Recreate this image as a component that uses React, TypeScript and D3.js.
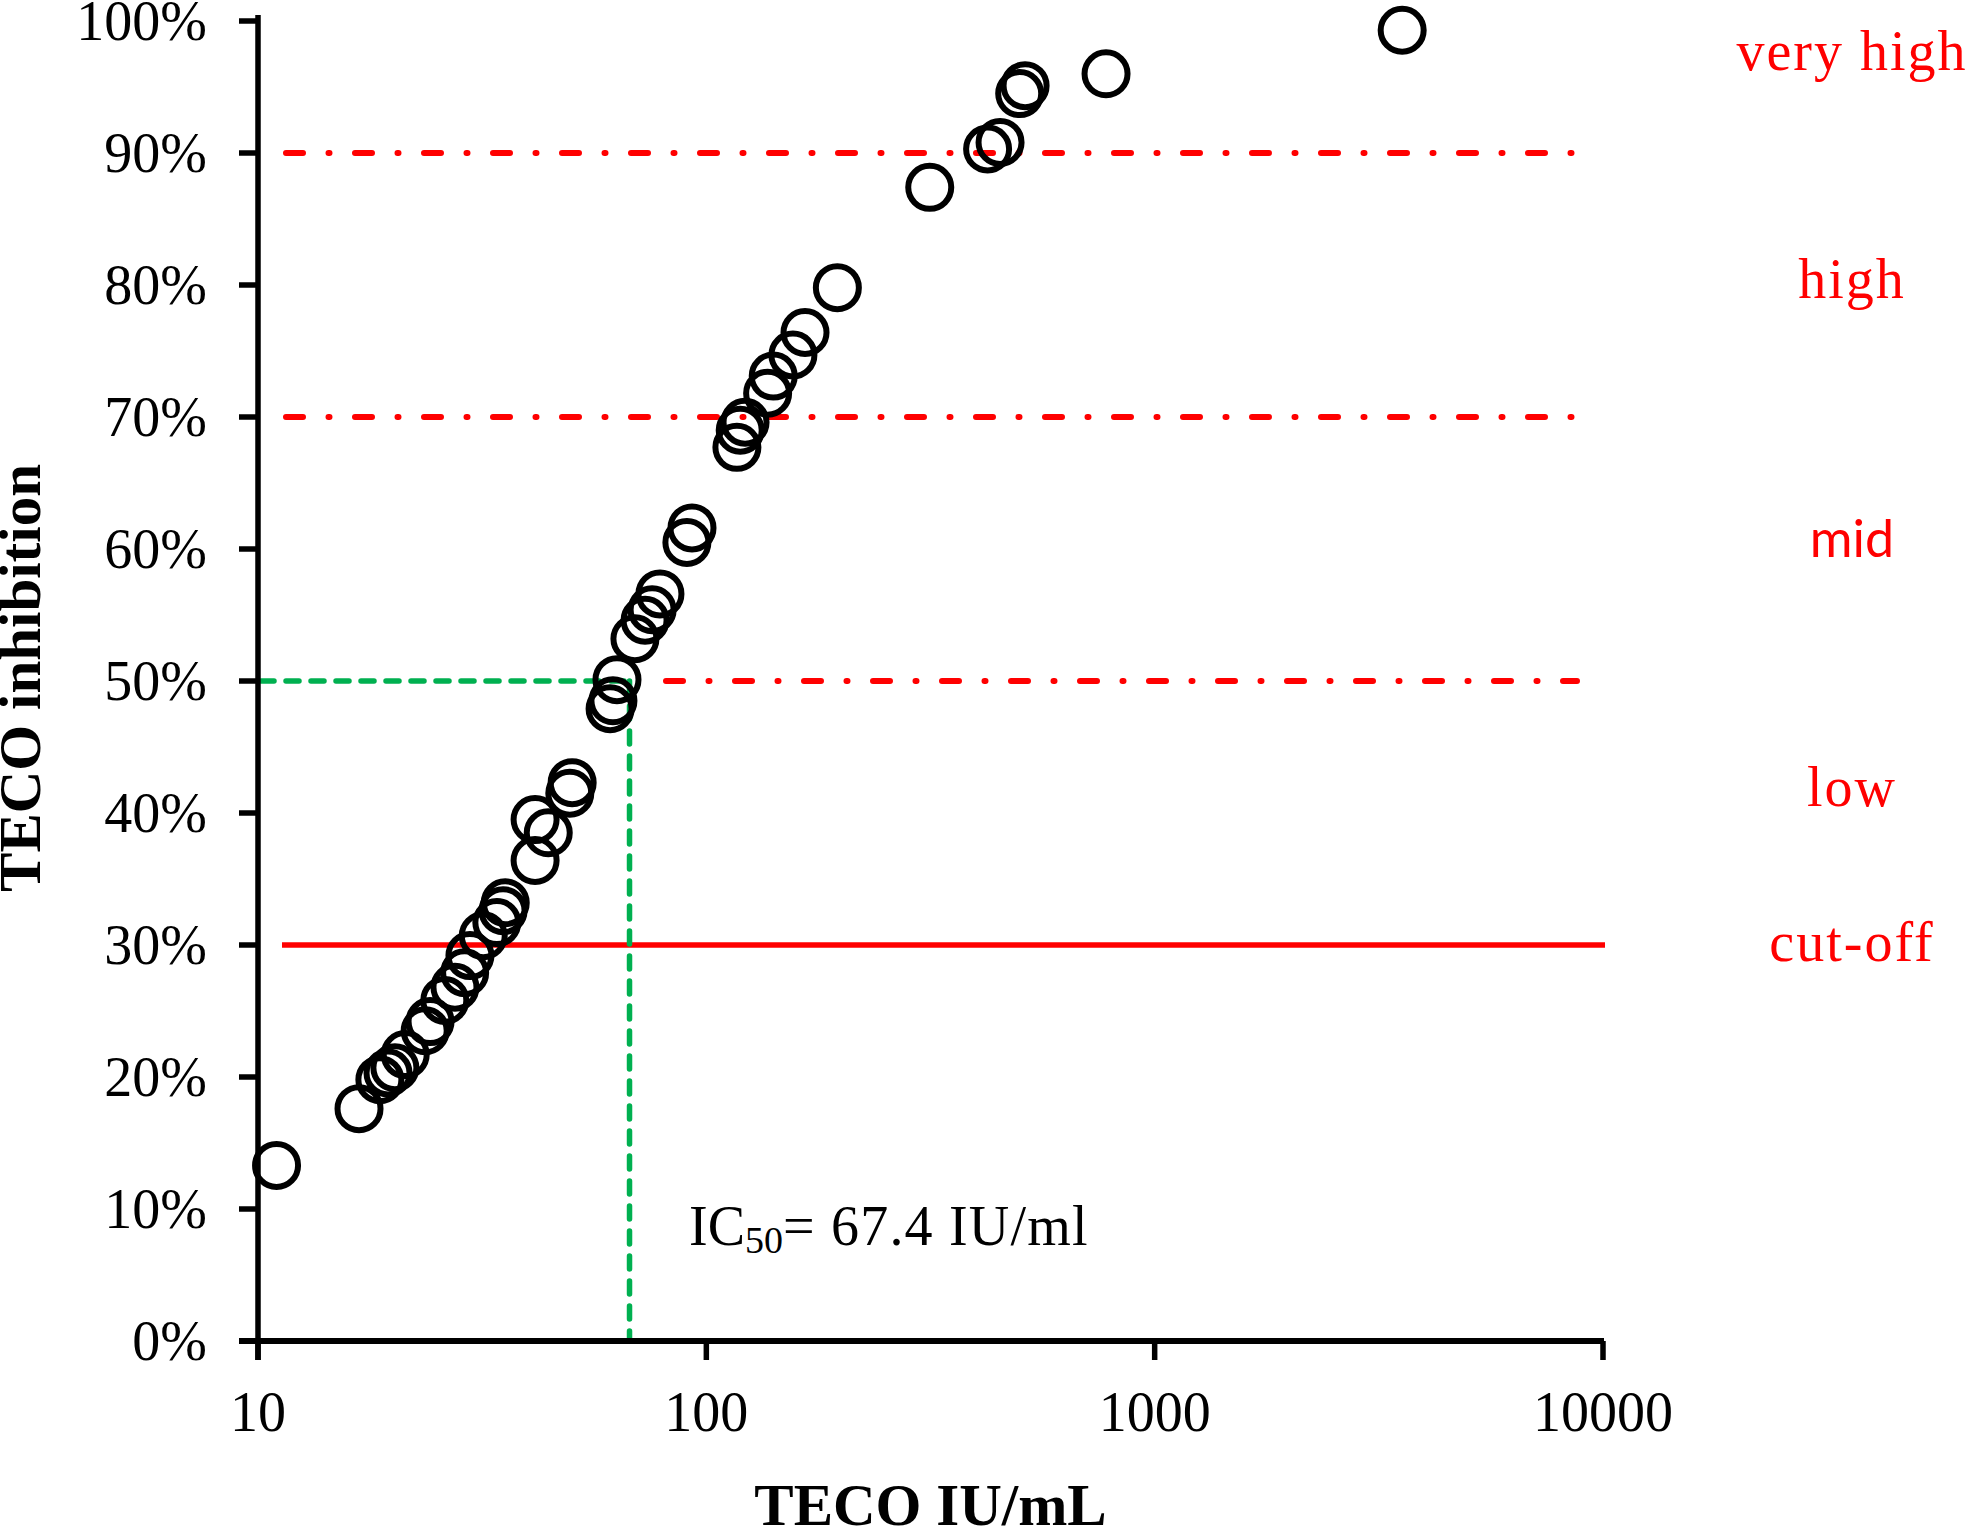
import React from "react";
import * as d3 from "d3";

// TECO concentration (IU/mL) and inhibition (fraction)
const tecoValues = [
  11.0, 16.8, 18.7, 19.5, 20.2, 21.3, 23.6, 24.2, 26.1, 27.5, 28.9, 29.7, 31.8, 34.1, 35.2, 35.6,
  41.5, 41.5, 44.4, 49.6, 50.2, 61.0, 61.9, 63.2, 69.3, 73.0, 75.7, 78.8, 90.5, 92.9,
  117, 119, 122, 137, 141, 156, 166, 196, 315, 424, 452, 500, 514, 779, 3565,
];
const inhibitionValues = [
  0.133, 0.176, 0.198, 0.203, 0.207, 0.217, 0.235, 0.242, 0.258, 0.268, 0.279, 0.292, 0.307, 0.317, 0.326, 0.332,
  0.364, 0.395, 0.385, 0.415, 0.423, 0.479, 0.485, 0.501, 0.532, 0.546, 0.554, 0.566, 0.605, 0.616,
  0.677, 0.69, 0.696, 0.718, 0.731, 0.747, 0.764, 0.798, 0.874, 0.903, 0.908, 0.945, 0.951, 0.96, 0.993,
];

const yTicks = [0, 0.1, 0.2, 0.3, 0.4, 0.5, 0.6, 0.7, 0.8, 0.9, 1.0];
const xTicks = [10, 100, 1000, 10000];

const dashDotLevels = [0.9, 0.7, 0.5];
const cutOff = 0.3;
const ic50 = 67.4;

const zoneLabels = [
  { text: "very high", y: 0.963, sans: false },
  { text: "high", y: 0.79, sans: false },
  { text: "mid", y: 0.594, sans: true },
  { text: "low", y: 0.405, sans: false },
  { text: "cut-off", y: 0.288, sans: false },
];

const W = 1969;
const H = 1528;

export default function App() {
  const x = d3.scaleLog().domain([10, 10000]).range([258, 1603]);
  const y = d3.scaleLinear().domain([0, 1]).range([1341, 21]);
  const serif = "'Liberation Serif', 'Times New Roman', serif";
  const sans = "Lato, 'Open Sans', sans-serif";
  const pts = tecoValues.map((v, i) => ({ v, p: inhibitionValues[i] }));
  const fmt = d3.format(".0%");

  return (
    <div style={{ position: "absolute", left: 0, top: 0, width: W, height: H, background: "#fff" }}>
      <svg width={W} height={H} viewBox={`0 0 ${W} ${H}`} style={{ display: "block" }}>
        <rect width={W} height={H} fill="#fff" />

        {/* reference lines */}
        {dashDotLevels.map((lv) => (
          <line
            key={lv}
            x1={lv === 0.5 ? 666 : 286}
            x2={1577}
            y1={y(lv)}
            y2={y(lv)}
            stroke="#ff0000"
            strokeWidth={6}
            strokeLinecap="round"
            strokeDasharray="17 25.5 1 25.5"
          />
        ))}
        <line x1={282} x2={1605} y1={y(cutOff)} y2={y(cutOff)} stroke="#ff0000" strokeWidth={5.5} />

        {/* IC50 guide lines */}
        <line
          x1={x(10) + 3}
          x2={x(ic50)}
          y1={y(0.5)}
          y2={y(0.5)}
          stroke="#00b050"
          strokeWidth={5.5}
          strokeLinecap="round"
          strokeDasharray="13 12"
        />
        <line
          x1={x(ic50)}
          x2={x(ic50)}
          y1={y(0.5)}
          y2={y(0) - 3}
          stroke="#00b050"
          strokeWidth={5.5}
          strokeLinecap="round"
          strokeDasharray="13 12"
        />

        {/* axes */}
        <line x1={x(10)} x2={x(10)} y1={15} y2={y(0) + 19} stroke="#000" strokeWidth={5.5} />
        <line x1={x(10) - 19} x2={x(10000) + 1} y1={y(0)} y2={y(0)} stroke="#000" strokeWidth={6} />
        {yTicks.map((t) => (
          <g key={t}>
            <line x1={x(10) - 19} x2={x(10)} y1={y(t)} y2={y(t)} stroke="#000" strokeWidth={5.5} />
            <text
              x={207}
              y={y(t)}
              dy="0.34em"
              textAnchor="end"
              fontFamily={serif}
              fontSize={56}
              fill="#000"
            >
              {fmt(t)}
            </text>
          </g>
        ))}
        {xTicks.map((t) => (
          <g key={t}>
            <line x1={x(t)} x2={x(t)} y1={y(0)} y2={y(0) + 19} stroke="#000" strokeWidth={5.5} />
            <text x={x(t)} y={1431} textAnchor="middle" fontFamily={serif} fontSize={56} fill="#000">
              {t}
            </text>
          </g>
        ))}

        {/* axis titles */}
        <text
          x={(x(10) + x(10000)) / 2}
          y={1525}
          textAnchor="middle"
          fontFamily={serif}
          fontWeight="bold"
          fontSize={59}
          fill="#000"
        >
          TECO IU/mL
        </text>
        <text
          transform={`translate(40, ${(y(0) + y(1)) / 2 - 3}) rotate(-90)`}
          textAnchor="middle"
          fontFamily={serif}
          fontWeight="bold"
          fontSize={59}
          fill="#000"
        >
          TECO inhibition
        </text>

        {/* data points */}
        {pts.map((d, i) => (
          <circle key={i} cx={x(d.v)} cy={y(d.p)} r={21.5} fill="none" stroke="#000" strokeWidth={6} />
        ))}

        {/* IC50 annotation */}
        <text x={689} y={1245} fontFamily={serif} fontSize={56} fill="#000">
          IC
          <tspan fontSize={38} dy={8}>50</tspan>
          <tspan dy={-8} letterSpacing={1.2}>= 67.4 IU/ml</tspan>
        </text>

        {/* zone labels */}
        {zoneLabels.map((z) => (
          <text
            key={z.text}
            x={1852}
            y={y(z.y)}
            textAnchor="middle"
            fontFamily={z.sans ? sans : serif}
            fontSize={z.sans ? 52 : 56}
            letterSpacing={z.sans ? 0 : 2}
            fill="#ff0000"
          >
            {z.text}
          </text>
        ))}
      </svg>
    </div>
  );
}
